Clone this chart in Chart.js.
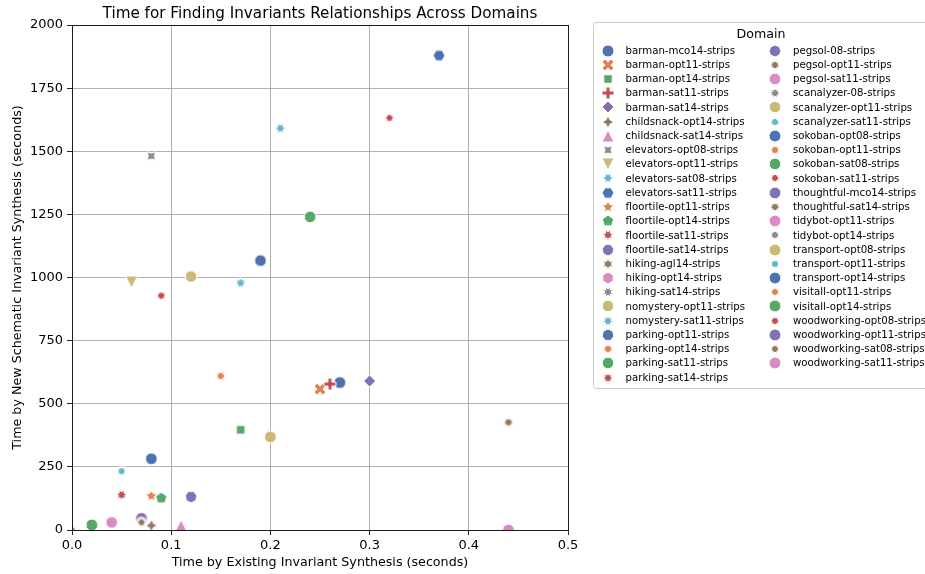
<!DOCTYPE html>
<html><head><meta charset="utf-8">
<script src="https://cdn.jsdelivr.net/npm/chart.js@4.4.0/dist/chart.umd.min.js"></script>
<style>html,body{margin:0;padding:0;background:#fff;}#wrap{width:925px;height:574px;position:relative;overflow:hidden;}</style>
</head><body><div id="wrap"><canvas id="c" width="925" height="574"></canvas></div>
<script>
// ---------------- data ----------------
const domains = [
  'barman-mco14-strips','barman-opt11-strips','barman-opt14-strips','barman-sat11-strips','barman-sat14-strips',
  'childsnack-opt14-strips','childsnack-sat14-strips','elevators-opt08-strips','elevators-opt11-strips','elevators-sat08-strips',
  'elevators-sat11-strips','floortile-opt11-strips','floortile-opt14-strips','floortile-sat11-strips','floortile-sat14-strips',
  'hiking-agl14-strips','hiking-opt14-strips','hiking-sat14-strips','nomystery-opt11-strips','nomystery-sat11-strips',
  'parking-opt11-strips','parking-opt14-strips','parking-sat11-strips','parking-sat14-strips','pegsol-08-strips',
  'pegsol-opt11-strips','pegsol-sat11-strips','scanalyzer-08-strips','scanalyzer-opt11-strips','scanalyzer-sat11-strips',
  'sokoban-opt08-strips','sokoban-opt11-strips','sokoban-sat08-strips','sokoban-sat11-strips','thoughtful-mco14-strips',
  'thoughtful-sat14-strips','tidybot-opt11-strips','tidybot-opt14-strips','transport-opt08-strips','transport-opt11-strips',
  'transport-opt14-strips','visitall-opt11-strips','visitall-opt14-strips','woodworking-opt08-strips','woodworking-opt11-strips',
  'woodworking-sat08-strips','woodworking-sat11-strips'
];
// Time by Existing Invariant Synthesis (seconds); null = no visible point
const existingTime = [
  0.27, 0.25, 0.17, 0.26, 0.30,
  0.08, 0.11, 0.08, 0.06, 0.21,
  0.37, 0.08, 0.09, 0.05, 0.12,
  null, null, null, 0.12, 0.17,
  null, null, null, null, null,
  null, null, null, null, null,
  0.19, 0.15, 0.24, 0.32, null,
  0.44, 0.04, null, 0.20, 0.05,
  0.08, 0.00, 0.02, 0.09, 0.07,
  0.07, 0.44
];
// Time by New Schematic Invariant Synthesis (seconds)
const schematicTime = [
  584, 558, 397, 578, 590,
  18, 17, 1481, 982, 1591,
  1879, 135, 126, 139, 131,
  null, null, null, 1004, 979,
  null, null, null, null, null,
  null, null, null, null, null,
  1067, 610, 1240, 1632, null,
  426, 30, null, 369, 233,
  282, 0, 20, 928, 46,
  30, 0
];
const xTickLabels = ['0.0','0.1','0.2','0.3','0.4','0.5'];
const yTickLabels = ['0','250','500','750','1000','1250','1500','1750','2000'];
const chartTitle = 'Time for Finding Invariants Relationships Across Domains';
const xAxisTitle = 'Time by Existing Invariant Synthesis (seconds)';
const yAxisTitle = 'Time by New Schematic Invariant Synthesis (seconds)';
const legendTitle = 'Domain';

// ---------------- style ----------------
const palette = ['#4C72B0','#DD8452','#55A868','#C44E52','#8172B3','#937860','#DA8BC3','#8C8C8C','#CCB974','#64B5CD'];
const FONT = "'DejaVu Sans', 'Liberation Sans', sans-serif";
const MR = 6;

function markerSpecs(n){
  const m = ['o','X',[4,0,45],'P',[4,0,0],[4,1,0],'^',[4,1,45],'v'];
  let s = 5;
  while (m.length < n){
    const a = 360/(s+1)/2;
    m.push([s+1,1,a],[s+1,0,a],[s,1,0],[s,0,0]);
    s++;
  }
  return m.slice(0,n);
}
function tracePath(ctx, spec, cx, cy, R){
  const k = 2*R;
  const poly = pts => { pts.forEach(([x,y],i)=>{ const px=cx+x*k, py=cy-y*k; if(i) ctx.lineTo(px,py); else ctx.moveTo(px,py); }); ctx.closePath(); };
  ctx.beginPath();
  if (spec === 'o') { ctx.arc(cx,cy,R,0,Math.PI*2); }
  else if (spec === 'X') { poly([[-1,-2],[0,-1],[1,-2],[2,-1],[1,0],[2,1],[1,2],[0,1],[-1,2],[-2,1],[-1,0],[-2,-1]].map(([x,y])=>[x/4,y/4])); }
  else if (spec === 'P') { poly([[-1,-3],[1,-3],[1,-1],[3,-1],[3,1],[1,1],[1,3],[-1,3],[-1,1],[-3,1],[-3,-1],[-1,-1]].map(([x,y])=>[x/6,y/6])); }
  else if (spec === '^') { poly([[0,0.5],[-0.5,-0.5],[0.5,-0.5]]); }
  else if (spec === 'v') { poly([[0,-0.5],[-0.5,0.5],[0.5,0.5]]); }
  else {
    const [n, st, ang] = spec;
    const cnt = st ? 2*n : n, pts = [];
    for (let i=0;i<cnt;i++){
      const th = 2*Math.PI*i/cnt + Math.PI/2 + ang*Math.PI/180;
      const r = (st && i%2) ? 0.25 : 0.5;
      pts.push([r*Math.cos(th), r*Math.sin(th)]);
    }
    poly(pts);
  }
}
function makeMarker(spec, color){
  const S = 2*MR + 6;
  const c = document.createElement('canvas');
  c.width = S; c.height = S;
  const ctx = c.getContext('2d');
  tracePath(ctx, spec, S/2, S/2, MR);
  ctx.fillStyle = color; ctx.fill();
  ctx.lineWidth = 1; ctx.strokeStyle = '#ffffff'; ctx.lineJoin = 'round'; ctx.stroke();
  return c;
}
const specs = markerSpecs(domains.length);
const markerImgs = domains.map((d,i)=>makeMarker(specs[i], palette[i%10]));

const datasets = domains.map((d,i)=>({
  label: d,
  data: existingTime[i] == null ? [] : [{x: existingTime[i], y: schematicTime[i]}],
  pointStyle: markerImgs[i],
  pointRadius: MR, pointHoverRadius: MR,
  backgroundColor: palette[i%10],
  borderColor: '#ffffff',
  order: -i,
  clip: 0
}));

const deco = {
  id: 'deco',
  afterDatasetsDraw(chart){
    const {ctx, chartArea: a} = chart;
    ctx.save();
    ctx.strokeStyle = '#1a1a1a'; ctx.lineWidth = 1;
    const l = Math.round(a.left)+0.5, t = Math.round(a.top)+0.5, r = Math.round(a.right)+0.5, b = Math.round(a.bottom)+0.5;
    ctx.strokeRect(l, t, r-l, b-t);
    ctx.restore();
  },
  afterDraw(chart){
    const {ctx, chartArea: a} = chart;
    ctx.save();
    // title
    ctx.fillStyle = '#000';
    ctx.font = `15.2px ${FONT}`;
    ctx.textAlign = 'center'; ctx.textBaseline = 'alphabetic';
    ctx.fillText(chartTitle, (a.left+a.right)/2, 18);
    // legend frame
    ctx.beginPath();
    ctx.roundRect(593.5, 22.5, 350, 366, 3);
    ctx.fillStyle = 'rgba(255,255,255,0.8)'; ctx.fill();
    ctx.strokeStyle = '#cccccc'; ctx.lineWidth = 1; ctx.stroke();
    ctx.fillStyle = '#000';
    ctx.font = `12.6px ${FONT}`;
    ctx.textAlign = 'center'; ctx.textBaseline = 'middle';
    ctx.fillText(legendTitle, 761, 35);
    ctx.font = `10.2px ${FONT}`;
    ctx.textAlign = 'left';
    const rows = 24, step = 14.22;
    chart.data.datasets.forEach((ds,i)=>{
      const col = i < rows ? 0 : 1, row = i < rows ? i : i - rows;
      const y = 50.5 + row*step;
      const mx = col ? 775 : 607.5, tx = col ? 793 : 625.5;
      const img = ds.pointStyle;
      ctx.drawImage(img, Math.round(mx - img.width/2), Math.round(y - img.height/2));
      ctx.fillStyle = '#000';
      ctx.fillText(ds.label, tx, y + 0.5);
    });
    ctx.restore();
  }
};

new Chart(document.getElementById('c'), {
  type: 'scatter',
  data: { datasets },
  plugins: [deco],
  options: {
    responsive: false, animation: false, devicePixelRatio: 1,
    layout: { padding: { left: 0, top: 25, right: 357, bottom: 0 } },
    plugins: { legend: { display: false }, tooltip: { enabled: false }, title: { display: false } },
    events: [],
    scales: {
      x: {
        type: 'linear', min: 0, max: 0.5, position: 'bottom',
        ticks: { stepSize: 0.1, autoSkip: false, maxRotation: 0, padding: 3, color: '#000',
                 font: { family: FONT, size: 13 }, callback: (v, i) => xTickLabels[i] },
        grid: { color: '#b0b0b0', lineWidth: 1, drawTicks: true, tickLength: 5, tickColor: '#262626' },
        border: { display: false },
        title: { display: true, text: xAxisTitle, color: '#000', font: { family: FONT, size: 12.7 }, padding: { top: 0, bottom: 4 } },
        afterFit: s => { s.height = 44; }
      },
      y: {
        type: 'linear', min: 0, max: 2000, position: 'left',
        ticks: { stepSize: 250, autoSkip: false, padding: 4, color: '#000',
                 font: { family: FONT, size: 13 }, callback: (v, i) => yTickLabels[i] },
        grid: { color: '#b0b0b0', lineWidth: 1, drawTicks: true, tickLength: 5, tickColor: '#262626' },
        border: { display: false },
        title: { display: true, text: yAxisTitle, color: '#000', font: { family: FONT, size: 12.7 }, padding: { top: 10, bottom: 0 } },
        afterFit: s => { s.width = 72; }
      }
    }
  }
});
</script>
</body></html>
